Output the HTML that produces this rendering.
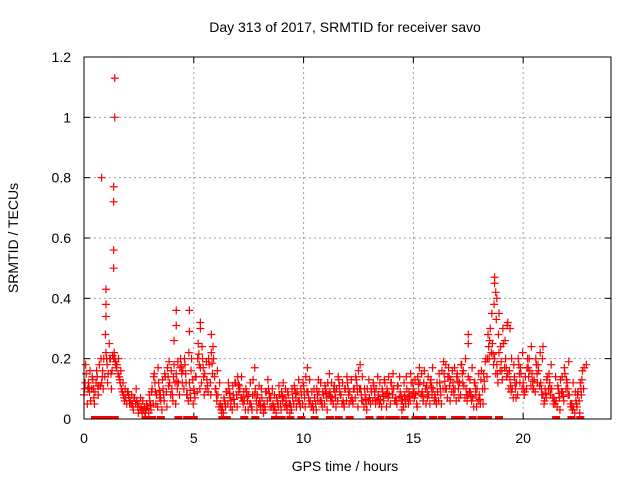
<!DOCTYPE html>
<html><head><meta charset="utf-8"><style>
html,body{margin:0;padding:0;background:#fff;}
svg{display:block;font-family:"Liberation Sans",sans-serif;}
</style></head><body>
<svg id="chart" width="640" height="480" viewBox="0 0 640 480" xmlns="http://www.w3.org/2000/svg">
<text x="345" y="32" font-size="14" text-anchor="middle" fill="#000">Day 313 of 2017, SRMTID for receiver savo</text>
<text x="345" y="471" font-size="14" text-anchor="middle" fill="#000">GPS time / hours</text>
<text transform="translate(18,238) rotate(-90)" font-size="14" text-anchor="middle" fill="#000">SRMTID / TECUs</text>
<g id="grid"></g>
<g id="ticks"></g>
<g id="marks"></g>
<rect x="84" y="57" width="527" height="362" fill="none" stroke="#000" stroke-width="1"/>
</svg>
<script>
const xTicks=[0,5,10,15,20];
const yTicks=[0,0.2,0.4,0.6,0.8,1,1.2];
const yTickLabels=["0","0.2","0.4","0.6","0.8","1","1.2"];
// samples every 0.1 h from 0 to 22.7
const seriesA=[0.08,0.15,0.12,0.06,0.13,0.09,0.14,0.18,0.12,0.2,0.22,0.15,0.2,0.21,0.2,0.18,0.14,0.1,0.08,0.07,0.09,0.06,0.05,0.07,0.06,0.05,0.04,0.03,0.02,0.04,0.06,0.1,0.15,0.08,0.12,0.06,0.1,0.14,0.17,0.12,0.1,0.18,0.15,0.12,0.2,0.16,0.18,0.08,0.12,0.2,0.1,0.14,0.25,0.17,0.2,0.15,0.13,0.18,0.22,0.2,0.1,0.08,0.05,0.04,0.06,0.09,0.1,0.06,0.08,0.12,0.14,0.1,0.07,0.06,0.09,0.08,0.05,0.13,0.1,0.08,0.06,0.07,0.05,0.09,0.1,0.07,0.05,0.04,0.06,0.08,0.09,0.07,0.06,0.08,0.05,0.07,0.1,0.09,0.06,0.08,0.11,0.14,0.09,0.06,0.05,0.07,0.1,0.09,0.06,0.08,0.1,0.12,0.09,0.07,0.11,0.1,0.13,0.08,0.06,0.1,0.12,0.09,0.07,0.1,0.13,0.16,0.1,0.06,0.08,0.1,0.07,0.09,0.11,0.1,0.08,0.06,0.09,0.12,0.1,0.08,0.12,0.1,0.07,0.11,0.09,0.06,0.08,0.1,0.09,0.12,0.1,0.08,0.14,0.12,0.09,0.16,0.11,0.08,0.13,0.1,0.07,0.09,0.12,0.16,0.15,0.1,0.17,0.13,0.12,0.1,0.15,0.12,0.18,0.11,0.1,0.14,0.09,0.07,0.12,0.1,0.08,0.16,0.15,0.2,0.28,0.3,0.25,0.2,0.18,0.22,0.19,0.25,0.2,0.15,0.13,0.1,0.14,0.12,0.18,0.15,0.12,0.14,0.2,0.16,0.15,0.13,0.18,0.16,0.12,0.08,0.1,0.14,0.12,0.1,0.07,0.06,0.1,0.13,0.09,0.15,0.12,0.08,0.05,0.04,0.06,0.09,0.12,0.16];
const seriesB=[0.12,0.05,0.09,0.1,0.07,0.12,0.08,0.11,0.16,0.14,0.18,0.25,0.1,0.2,0.18,0.15,0.12,0.09,0.06,0.05,0.07,0.05,0.03,0.05,0.04,0.03,0.02,0.04,0.05,0.02,0.03,0.05,0.09,0.04,0.07,0.03,0.06,0.09,0.11,0.08,0.06,0.12,0.1,0.08,0.15,0.1,0.12,0.06,0.07,0.13,0.07,0.09,0.18,0.12,0.14,0.1,0.09,0.12,0.15,0.14,0.06,0.04,0.03,0.02,0.04,0.05,0.07,0.03,0.05,0.08,0.09,0.07,0.05,0.03,0.06,0.05,0.03,0.08,0.06,0.05,0.03,0.04,0.03,0.06,0.07,0.04,0.03,0.02,0.04,0.05,0.06,0.04,0.03,0.05,0.03,0.05,0.07,0.06,0.04,0.05,0.07,0.09,0.05,0.04,0.03,0.05,0.06,0.06,0.04,0.05,0.07,0.08,0.06,0.05,0.07,0.06,0.09,0.05,0.04,0.06,0.08,0.06,0.05,0.07,0.09,0.1,0.06,0.04,0.05,0.06,0.05,0.06,0.07,0.06,0.05,0.04,0.06,0.08,0.07,0.05,0.08,0.06,0.05,0.07,0.06,0.04,0.05,0.07,0.06,0.08,0.07,0.05,0.09,0.08,0.06,0.1,0.07,0.05,0.08,0.06,0.05,0.06,0.08,0.1,0.1,0.07,0.11,0.09,0.08,0.06,0.1,0.08,0.12,0.07,0.06,0.09,0.06,0.04,0.08,0.06,0.05,0.1,0.1,0.14,0.2,0.22,0.18,0.15,0.12,0.16,0.13,0.17,0.14,0.1,0.09,0.07,0.1,0.08,0.12,0.1,0.08,0.1,0.14,0.11,0.1,0.09,0.12,0.11,0.08,0.05,0.07,0.1,0.08,0.07,0.05,0.04,0.07,0.09,0.06,0.1,0.08,0.05,0.03,0.02,0.04,0.06,0.08,0.1];
const seriesC=[0.18,0.1,0.16,0.14,0.05,0.16,0.11,0.2,0.1,0.28,0.12,0.2,0.16,0.22,0.17,0.2,0.16,0.12,0.1,0.09,0.05,0.08,0.07,0.1,0.02,0.07,0.06,0.02,0.04,0.08,0.09,0.14,0.05,0.17,0.08,0.13,0.15,0.04,0.19,0.16,0.14,0.05,0.19,0.17,0.12,0.2,0.08,0.22,0.16,0.05,0.14,0.2,0.1,0.24,0.08,0.19,0.2,0.08,0.24,0.1,0.16,0.12,0.02,0.07,0.09,0.12,0.04,0.11,0.12,0.04,0.11,0.14,0.09,0.1,0.03,0.12,0.08,0.17,0.03,0.11,0.1,0.02,0.09,0.13,0.04,0.1,0.08,0.07,0.11,0.03,0.12,0.1,0.09,0.02,0.1,0.11,0.04,0.13,0.1,0.12,0.04,0.17,0.13,0.09,0.1,0.03,0.13,0.12,0.09,0.11,0.03,0.15,0.12,0.1,0.04,0.14,0.08,0.12,0.1,0.14,0.05,0.13,0.1,0.14,0.04,0.18,0.14,0.1,0.03,0.13,0.1,0.12,0.05,0.14,0.12,0.1,0.13,0.04,0.14,0.12,0.15,0.06,0.11,0.14,0.03,0.12,0.14,0.05,0.15,0.12,0.13,0.04,0.17,0.15,0.12,0.05,0.14,0.12,0.17,0.08,0.12,0.15,0.05,0.19,0.18,0.14,0.06,0.16,0.17,0.14,0.07,0.18,0.16,0.2,0.08,0.13,0.17,0.12,0.04,0.15,0.13,0.05,0.19,0.2,0.26,0.35,0.38,0.33,0.28,0.24,0.3,0.26,0.31,0.16,0.2,0.18,0.07,0.2,0.17,0.22,0.09,0.17,0.2,0.24,0.1,0.2,0.18,0.22,0.2,0.06,0.13,0.15,0.18,0.05,0.14,0.11,0.03,0.14,0.17,0.13,0.19,0.04,0.12,0.09,0.08,0.02,0.13,0.17,0.18];
const spikeTimes=[0.8,1.0,1.0,1.0,1.4,1.4,1.35,1.35,1.35,1.35,4.2,4.2,4.1,4.8,4.8,5.3,5.3,5.8,17.5,17.5,18.7,18.7,18.75,18.8,18.9,19.3,19.4,20.9];
const spikeValues=[0.8,0.43,0.38,0.34,1.13,1.0,0.77,0.72,0.56,0.5,0.36,0.31,0.26,0.36,0.29,0.32,0.3,0.28,0.28,0.25,0.47,0.45,0.42,0.4,0.35,0.32,0.3,0.24];
const zeroTimes=[0.5,0.7,1.0,1.2,1.4,2.8,3.0,3.1,3.5,4.3,4.7,5.0,6.3,6.5,7.3,7.8,8.7,9.0,9.4,9.9,10.5,11.2,11.6,12.1,13.0,13.5,13.9,14.2,14.6,15.1,15.4,15.9,16.3,16.9,17.2,17.7,18.1,18.4,18.9,21.5,22.2,22.6];
const X0=84,X1=611,Y0=419,Y1=57;
const xs=v=>X0+v/24*(X1-X0);
const ys=v=>Y0-v/1.2*(Y0-Y1);
const NS="http://www.w3.org/2000/svg";
const grid=document.getElementById('grid'),ticks=document.getElementById('ticks'),marks=document.getElementById('marks');
function mk(tag,attrs,parent){const e=document.createElementNS(NS,tag);for(const k in attrs)e.setAttribute(k,attrs[k]);parent.appendChild(e);return e;}
xTicks.forEach(t=>{
  const x=xs(t);
  if(t>0){const g=mk('line',{x1:x,x2:x,y1:Y0,y2:Y1,stroke:'#a0a0a0','stroke-dasharray':'2,3'},grid);
  
  }
  mk('line',{x1:x,x2:x,y1:Y0,y2:Y0-6,stroke:'#000'},ticks);
  mk('line',{x1:x,x2:x,y1:Y1,y2:Y1+6,stroke:'#000'},ticks);
  const l=mk('text',{x:x,y:443,'font-size':14,'text-anchor':'middle'},ticks);l.textContent=t;
  
  
});
yTicks.forEach((t,i)=>{
  const y=ys(t);
  if(t>0&&t<1.2){const g=mk('line',{x1:X0,x2:X1,y1:y,y2:y,stroke:'#a0a0a0','stroke-dasharray':'2,3'},grid);
  
  }
  mk('line',{x1:X0,x2:X0+6,y1:y,y2:y,stroke:'#000'},ticks);
  mk('line',{x1:X1,x2:X1-6,y1:y,y2:y,stroke:'#000'},ticks);
  const l=mk('text',{x:71,y:y+5,'font-size':14,'text-anchor':'end'},ticks);l.textContent=yTickLabels[i];
  
  
});
function plus(t,v,color){
  const x=xs(t),y=ys(v);
  const p=mk('path',{d:`M${x-4},${y}H${x+4}M${x},${y-4}V${y+4}`,stroke:color,'stroke-width':1.2,fill:'none'},marks);
  
  
}
seriesA.forEach((v,i)=>plus(i*0.1,v,'#f00'));
seriesB.forEach((v,i)=>plus(i*0.1+0.05,v,'#f00'));
seriesC.forEach((v,i)=>plus(i*0.1+0.075,v,'#f00'));
seriesA.forEach((v,i)=>{if(i%2===0)plus(i*0.1+0.03,(v+seriesB[i])/2,'#f00');});
spikeTimes.forEach((t,i)=>plus(t,spikeValues[i],'#f00'));
zeroTimes.forEach(t=>{
  const r=mk('rect',{x:xs(t)-4,y:Y0-3,width:8,height:3,fill:'#f00'},marks);
  
  
});
</script>
</body></html>
